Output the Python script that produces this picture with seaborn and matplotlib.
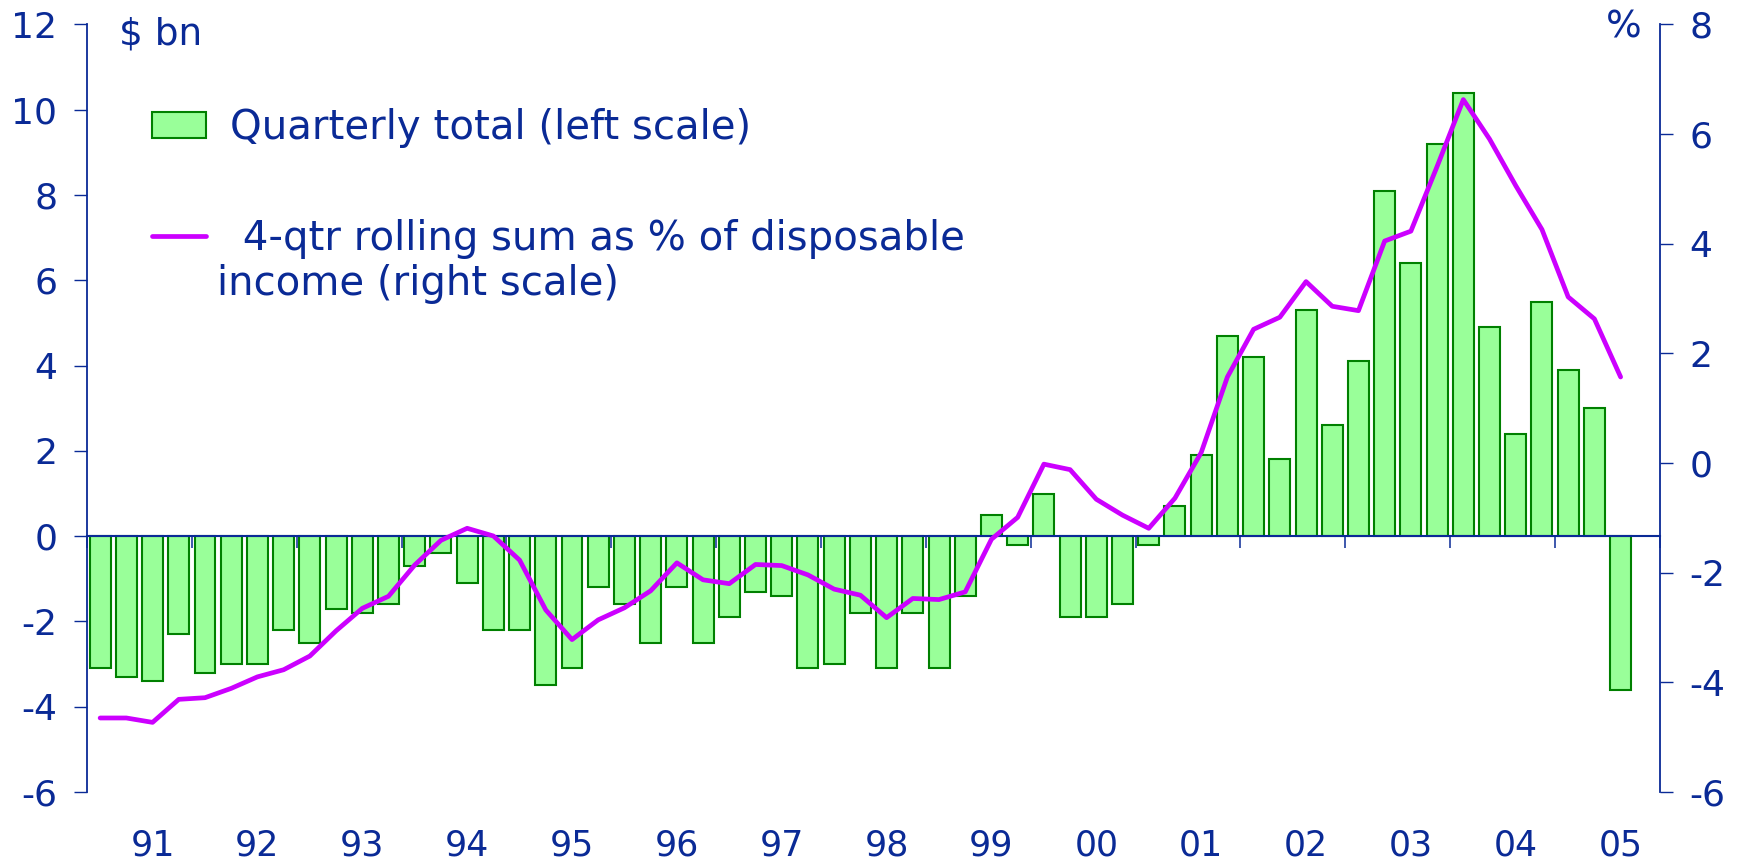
import numpy as np
import pandas as pd
import matplotlib
matplotlib.use('Agg')
import matplotlib.pyplot as plt
from matplotlib.patches import Patch
from matplotlib.lines import Line2D
import seaborn as sns

# Data: quarterly total ($bn, left) and 4-qtr rolling sum (% , right)
years = ['91', '92', '93', '94', '95', '96', '97', '98', '99', '00', '01', '02', '03', '04', '05']
quarterly_total = [
    -3.1, -3.3, -3.4, -2.3, -3.2, -3.0, -3.0, -2.2, -2.5, -1.7, -1.8, -1.6,
    -0.7, -0.4, -1.1, -2.2, -2.2, -3.5, -3.1, -1.2, -1.6, -2.5, -1.2, -2.5,
    -1.9, -1.3, -1.4, -3.1, -3.0, -1.8, -3.1, -1.8, -3.1, -1.4, 0.5, -0.2,
    1.0, -1.9, -1.9, -1.6, -0.2, 0.7, 1.9, 4.7, 4.2, 1.8, 5.3, 2.6,
    4.1, 8.1, 6.4, 9.2, 10.4, 4.9, 2.4, 5.5, 3.9, 3.0, -3.6,
]
rolling_pct = [
    -4.65, -4.65, -4.73, -4.31, -4.28, -4.11, -3.90, -3.77, -3.52, -3.06, -2.65, -2.43,
    -1.86, -1.41, -1.19, -1.33, -1.77, -2.68, -3.22, -2.86, -2.64, -2.33, -1.82, -2.13,
    -2.20, -1.85, -1.87, -2.04, -2.30, -2.41, -2.82, -2.47, -2.49, -2.35, -1.39, -0.99,
    -0.02, -0.12, -0.66, -0.95, -1.19, -0.64, 0.19, 1.57, 2.44, 2.66, 3.31, 2.86,
    2.78, 4.05, 4.23, 5.41, 6.63, 5.91, 5.06, 4.26, 3.03, 2.63, 1.57,
]
quarters = [y + 'Q' + str(q) for y in years for q in range(1, 5)][:len(quarterly_total)]

sns.set_theme(style='white')
plt.rcParams['font.family'] = ['DejaVu Sans']
plt.rcParams['axes.unicode_minus'] = False

blue = '#0a2a96'
bar_fill = '#99ff99'
bar_edge = '#008000'
line_col = '#cc00ff'

df = pd.DataFrame({'pos': np.arange(len(quarters)), 'quarter': quarters,
                   'total': quarterly_total, 'pct': rolling_pct})

fig = plt.figure(figsize=(17.44, 8.65), dpi=100)
ax = fig.add_axes([0.0499, 0.0844, 0.9019, 0.8873])

sns.barplot(data=df, x='pos', y='total', native_scale=True, orient='x',
            color=bar_fill, saturation=1, edgecolor=bar_edge, linewidth=1.5,
            width=0.8, ax=ax)
ax2 = ax.twinx()
sns.lineplot(data=df, x='pos', y='pct', color=line_col, linewidth=3.4, ax=ax2)

# axes limits / ticks
ax.set_xlim(-0.5, len(years) * 4 - 0.5)
ax.set_ylim(-6, 12)
ax.set_yticks(range(-6, 13, 2))
ax2.set_ylim(-6, 8)
ax2.set_yticks(range(-6, 9, 2))
ax.set_xlabel('')
ax.set_ylabel('')
ax2.set_xlabel('')
ax2.set_ylabel('')

label_pos = np.arange(2, len(years) * 4, 4)
ax.set_xticks(label_pos, years)
ax.tick_params(axis='x', length=0, pad=26, labelsize=25, labelcolor=blue)
ax.tick_params(axis='y', length=9.4, width=1, color=blue, labelcolor=blue,
               labelsize=26, pad=12, direction='out', left=True)
ax2.tick_params(axis='y', length=9.4, width=1, color=blue, labelcolor=blue,
                labelsize=26, pad=12, direction='out', right=True)

for s in ['top', 'bottom', 'right']:
    ax.spines[s].set_visible(False)
for s in ['top', 'bottom', 'left']:
    ax2.spines[s].set_visible(False)
ax.spines['left'].set_color(blue)
ax.spines['left'].set_linewidth(1.3)
ax2.spines['right'].set_color(blue)
ax2.spines['right'].set_linewidth(1.3)

# zero line with year-boundary ticks
sec = ax.secondary_xaxis(6 / 18)
sec.set_xticks(np.arange(-0.5, len(years) * 4, 4))
sec.set_xticklabels([])
sec.tick_params(axis='x', length=8.6, width=1.1, color=blue, direction='out')
sec.spines['bottom'].set_color(blue)
sec.spines['bottom'].set_linewidth(1.5)
sec.set_zorder(3)

# legend and notes
handles = [Patch(facecolor=bar_fill, edgecolor=bar_edge, linewidth=1.5),
           Line2D([], [], color=line_col, linewidth=3.4)]
labels = ['Quarterly total (left scale)', ' 4-qtr rolling sum as % of disposable']
ax2.legend(handles, labels, loc='upper left', bbox_to_anchor=(0.0413, 0.891),
           frameon=False, fontsize=29, labelcolor=blue, borderpad=0,
           borderaxespad=0, handlelength=1.34, handleheight=0.65,
           handletextpad=0.6, labelspacing=1.76)
ax2.text(0.0826, 0.662, 'income (right scale)', transform=ax2.transAxes,
         ha='left', va='center', fontsize=29, color=blue)
ax.text(0.0203, 0.987, '$ bn', transform=ax.transAxes, ha='left', va='center',
        fontsize=27, color=blue)
ax2.text(0.9886, 0.996, '%', transform=ax2.transAxes, ha='right', va='center',
         fontsize=27, color=blue)

fig.savefig('out.png', dpi=100)
